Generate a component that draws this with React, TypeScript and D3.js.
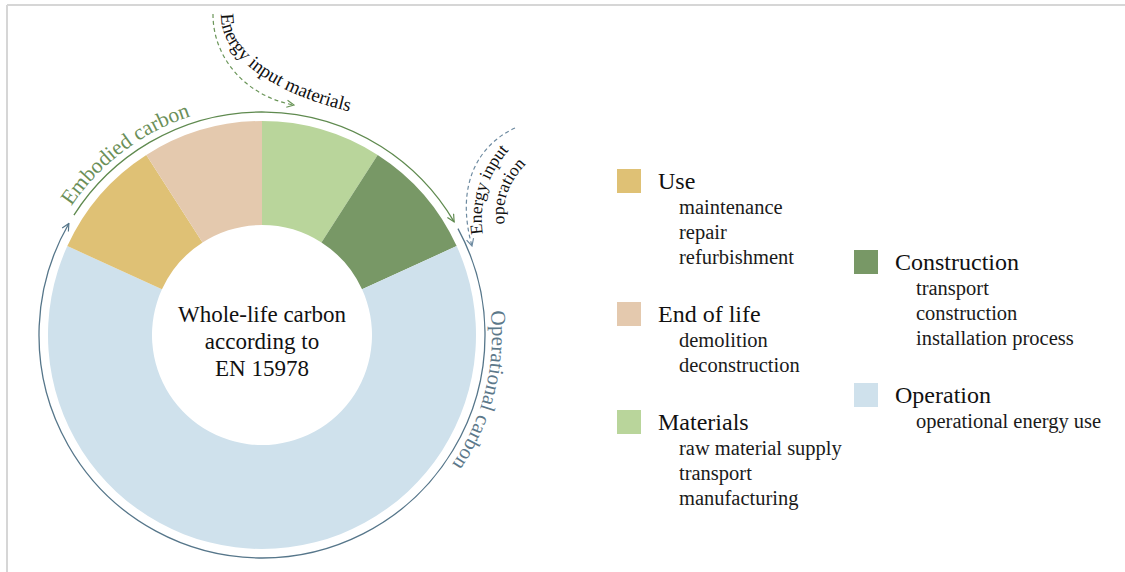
import React, { useEffect, useRef } from 'react';
import * as d3 from 'd3';

// life-cycle stages, clockwise from 12 o'clock
const stages = ['Materials', 'Construction', 'Operation', 'Use', 'End of life'];
const stageShares = [1, 1, 7, 1, 1];
const stageColors = ['#b9d59b', '#789866', '#cfe1ec', '#dfc175', '#e4c9ae'];

// legend, column 1 then column 2
const legendCol1 = ['Use', 'End of life', 'Materials'];
const legendCol2 = ['Construction', 'Operation'];
const legendItems: Record<string, string[]> = {
  'Use': ['maintenance', 'repair', 'refurbishment'],
  'End of life': ['demolition', 'deconstruction'],
  'Materials': ['raw material supply', 'transport', 'manufacturing'],
  'Construction': ['transport', 'construction', 'installation process'],
  'Operation': ['operational energy use'],
};

const centerLines = ['Whole-life carbon', 'according to', 'EN 15978'];

const W = 1125, H = 572;
const cx = 262, cy = 335;
const FONT = "'Liberation Serif', 'Times New Roman', serif";

const rad = (deg: number) => (deg * Math.PI) / 180;

// circular line around the donut, angles in clock degrees
function ringPath(r: number, a0: number, a1: number) {
  const p = d3.path();
  p.arc(cx, cy, r, rad(a0 - 90), rad(a1 - 90), a1 < a0);
  return p.toString();
}

export default function App() {
  const ref = useRef<SVGSVGElement>(null);

  useEffect(() => {
    const svg = d3.select(ref.current);
    svg.selectAll('*').remove();

    const defs = svg.append('defs');
    function marker(id: string, color: string) {
      defs.append('marker')
        .attr('id', id)
        .attr('viewBox', '0 0 10 10')
        .attr('refX', 9).attr('refY', 5)
        .attr('markerWidth', 9).attr('markerHeight', 9)
        .attr('markerUnits', 'userSpaceOnUse')
        .attr('orient', 'auto')
        .append('path')
        .attr('d', 'M1,1 L9,5 L1,9')
        .attr('fill', 'none')
        .attr('stroke', color)
        .attr('stroke-width', 1.3);
    }
    marker('arrGreen', '#5f8a4f');
    marker('arrBlue', '#56768a');
    marker('arrGreenD', '#6a9558');
    marker('arrBlueD', '#6d8aa0');

    // frame lines
    svg.append('line').attr('x1', 7).attr('x2', W).attr('y1', 5).attr('y2', 5)
      .attr('stroke', '#d6d6d6').attr('stroke-width', 2);
    svg.append('line').attr('x1', 7).attr('x2', 7).attr('y1', 5).attr('y2', H)
      .attr('stroke', '#d6d6d6').attr('stroke-width', 2);

    // donut
    const pie = d3.pie<number>().sort(null).value(d => d);
    const arcGen = d3.arc<d3.PieArcDatum<number>>().innerRadius(110).outerRadius(214);
    svg.append('g')
      .selectAll('path')
      .data(pie(stageShares))
      .enter()
      .append('path')
      .attr('transform', `translate(${cx},${cy})`)
      .attr('d', arcGen)
      .attr('fill', (d, i) => stageColors[i]);

    // center label
    svg.append('text')
      .attr('text-anchor', 'middle')
      .attr('font-family', FONT)
      .attr('font-size', 23)
      .attr('fill', '#111')
      .selectAll('tspan')
      .data(centerLines)
      .enter()
      .append('tspan')
      .attr('x', cx)
      .attr('y', (d, i) => 322 + i * 27)
      .text(d => d);

    // embodied / operational rings
    svg.append('path').attr('d', ringPath(223, -57.5, 59.5))
      .attr('fill', 'none').attr('stroke', '#5f8a4f').attr('stroke-width', 1.3)
      .attr('marker-end', 'url(#arrGreen)');
    svg.append('path').attr('d', ringPath(223, 61.5, 300))
      .attr('fill', 'none').attr('stroke', '#56768a').attr('stroke-width', 1.3)
      .attr('marker-end', 'url(#arrBlue)');

    defs.append('path').attr('id', 'embodiedPath').attr('d', ringPath(230, -56, 10));
    defs.append('path').attr('id', 'operationalPath').attr('d', ringPath(230, 84, 150));

    svg.append('text')
      .attr('font-family', FONT).attr('font-size', 21.5).attr('fill', '#6b8f58')
      .append('textPath').attr('href', '#embodiedPath').text('Embodied carbon');
    svg.append('text')
      .attr('font-family', FONT).attr('font-size', 21).attr('fill', '#5c788a')
      .append('textPath').attr('href', '#operationalPath').text('Operational carbon');

    // energy input annotations
    svg.append('path').attr('d', 'M 213 14 A 100 92 0 0 0 294 105')
      .attr('fill', 'none').attr('stroke', '#6a9558').attr('stroke-width', 1.2)
      .attr('stroke-dasharray', '4,3')
      .attr('marker-end', 'url(#arrGreenD)');
    defs.append('path').attr('id', 'materialsPath').attr('d', 'M 221 14 A 243 108 0 0 0 390 119');
    svg.append('text')
      .attr('font-family', FONT).attr('font-size', 19).attr('fill', '#111')
      .append('textPath').attr('href', '#materialsPath').text('Energy input materials');

    svg.append('path').attr('d', 'M 515 128 C 478 145, 455 185, 472 246')
      .attr('fill', 'none').attr('stroke', '#6d8aa0').attr('stroke-width', 1.2)
      .attr('stroke-dasharray', '4,3')
      .attr('marker-end', 'url(#arrBlueD)');
    defs.append('path').attr('id', 'opLine1').attr('d', 'M 483 234 C 477 195, 493 158, 535 126');
    defs.append('path').attr('id', 'opLine2').attr('d', 'M 505 224 C 501 198, 510 175, 542 150');
    svg.append('text')
      .attr('font-family', FONT).attr('font-size', 17.5).attr('fill', '#111')
      .append('textPath').attr('href', '#opLine1').text('Energy input');
    svg.append('text')
      .attr('font-family', FONT).attr('font-size', 17.5).attr('fill', '#111')
      .append('textPath').attr('href', '#opLine2').text('operation');

    // legend
    function legendColumn(names: string[], x: number, y0: number) {
      let y = y0;
      names.forEach(name => {
        const items = legendItems[name];
        const g = svg.append('g');
        g.append('rect')
          .attr('x', x).attr('y', y - 20)
          .attr('width', 24).attr('height', 24)
          .attr('fill', stageColors[stages.indexOf(name)]);
        g.append('text')
          .attr('x', x + 41).attr('y', y)
          .attr('font-family', FONT).attr('font-size', 24).attr('fill', '#111')
          .text(name);
        g.selectAll('text.item')
          .data(items)
          .enter()
          .append('text')
          .classed('item', true)
          .attr('x', x + 62)
          .attr('y', (d, i) => y + 25 + i * 25)
          .attr('font-family', FONT).attr('font-size', 20.5).attr('fill', '#1a1a1a')
          .text(d => d);
        y += items.length * 25 + 58;
      });
    }
    legendColumn(legendCol1, 617, 189);
    legendColumn(legendCol2, 854, 270);
  }, []);

  return (
    <svg
      ref={ref}
      width={W}
      height={H}
      style={{ position: 'absolute', left: 0, top: 0, background: '#fff' }}
    />
  );
}
